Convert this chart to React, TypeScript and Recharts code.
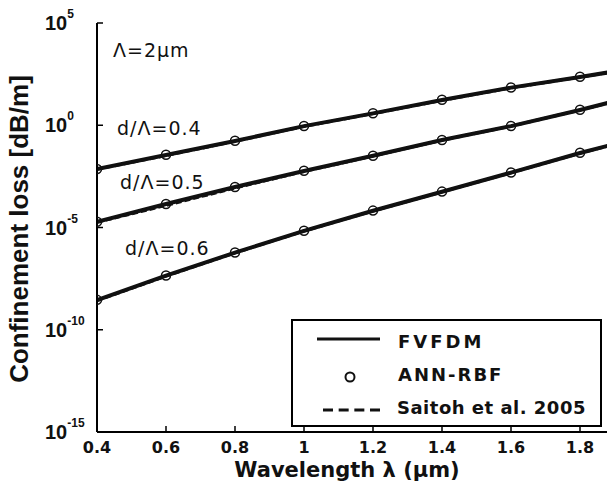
import { LineChart, Line, XAxis, YAxis, Legend, Customized } from "recharts";

// wavelength in µm (last point is where the plot is cut off on the right)
const WAVELENGTH = [0.4, 0.6, 0.8, 1.0, 1.2, 1.4, 1.6, 1.8, 1.9];

// confinement loss [dB/m], d/Λ = 0.4
const FVFDM_04 = [7.2e-3, 3.5e-2, 1.7e-1, 0.91, 3.8, 17, 69, 230, 430];
const SAITOH_04 = [7.0e-3, 3.3e-2, 1.65e-1, 0.88, 3.7, 16.5, 67, 225, 420];
const ANN_04 = [7.3e-3, 3.6e-2, 1.75e-1, 0.92, 3.9, 17.5, 70, 235];

// d/Λ = 0.5
const FVFDM_05 = [1.9e-5, 1.4e-4, 9.5e-4, 5.8e-3, 3.2e-2, 0.19, 0.91, 5.6, 15];
const SAITOH_05 = [1.8e-5, 1.2e-4, 8.5e-4, 5.5e-3, 3.1e-2, 0.185, 0.9, 5.5, 14.5];
const ANN_05 = [1.9e-5, 1.4e-4, 9.6e-4, 5.9e-3, 3.2e-2, 0.19, 0.92, 5.7];

// d/Λ = 0.6
const FVFDM_06 = [2.8e-9, 4.4e-8, 5.9e-7, 6.9e-6, 6.6e-5, 5.6e-4, 4.8e-3, 4.4e-2, 0.12];
const SAITOH_06 = [2.7e-9, 4.2e-8, 5.7e-7, 6.7e-6, 6.4e-5, 5.5e-4, 4.7e-3, 4.3e-2, 0.118];
const ANN_06 = [2.9e-9, 4.5e-8, 6.0e-7, 7.0e-6, 6.7e-5, 5.7e-4, 4.9e-3, 4.5e-2];

const X_TICKS = [0.4, 0.6, 0.8, 1, 1.2, 1.4, 1.6, 1.8];
const Y_TICKS = [1e-15, 1e-10, 1e-5, 1, 1e5];
const LEGEND_LABELS = ["FVFDM", "ANN-RBF", "Saitoh et al. 2005"];

const rows = WAVELENGTH.map((x, i) => ({
  x,
  fv04: FVFDM_04[i], sa04: SAITOH_04[i], ann04: ANN_04[i],
  fv05: FVFDM_05[i], sa05: SAITOH_05[i], ann05: ANN_05[i],
  fv06: FVFDM_06[i], sa06: SAITOH_06[i], ann06: ANN_06[i],
}));

const INK = "#111";

const XTick = ({ x, y, payload }: any) => (
  <text x={x} y={y + 21} textAnchor="middle" fontFamily="DejaVu Sans" fontWeight="bold" fontSize={16} fill={INK}>
    {String(payload.value)}
  </text>
);

const YTick = ({ x, y, payload }: any) => {
  const exp = Math.round(Math.log10(payload.value));
  return (
    <text x={x} y={y + 7} textAnchor="start" fontFamily="Liberation Sans" fontWeight="bold" fontSize={20} fill={INK}>
      10<tspan dy={-12} fontSize={12}>{exp}</tspan>
    </text>
  );
};

const annoStyle = { fontFamily: "DejaVu Sans", fontSize: 19, letterSpacing: 1, fill: INK } as const;

const Annotations = () => (
  <g>
    <text x={113} y={57} {...annoStyle}>Λ=2μm</text>
    <text x={117} y={135} {...annoStyle}>d/Λ=0.4</text>
    <text x={120} y={189} {...annoStyle}>d/Λ=0.5</text>
    <text x={125} y={255} {...annoStyle}>d/Λ=0.6</text>
    <text x={347} y={477} textAnchor="middle" fontFamily="DejaVu Sans" fontWeight="bold" fontSize={21} fill={INK}>
      Wavelength λ (μm)
    </text>
    <text x={28} y={229} transform="rotate(-90, 28, 229)" textAnchor="middle" fontFamily="Liberation Sans" fontWeight="bold" fontSize={26} fill={INK}>
      Confinement loss [dB/m]
    </text>
  </g>
);

const LegendBox = () => (
  <div style={{ width: 311, height: 108, border: "2px solid #000", boxSizing: "border-box", background: "#fff" }}>
    <svg width={307} height={104} style={{ display: "block" }}>
      <line x1={24} y1={18} x2={87} y2={18} stroke={INK} strokeWidth={3} />
      <circle cx={57} cy={56} r={4.5} fill="none" stroke={INK} strokeWidth={2} />
      <line x1={30} y1={89} x2={87} y2={89} stroke={INK} strokeWidth={3} strokeDasharray="10 5.67" />
      <text x={105} y={27} fontFamily="DejaVu Sans" fontWeight="bold" fontSize={18} letterSpacing={3} fill={INK}>{LEGEND_LABELS[0]}</text>
      <text x={105} y={60} fontFamily="DejaVu Sans" fontWeight="bold" fontSize={18} letterSpacing={2} fill={INK}>{LEGEND_LABELS[1]}</text>
      <text x={104} y={93} fontFamily="DejaVu Sans" fontWeight="bold" fontSize={18} letterSpacing={0.5} fill={INK}>{LEGEND_LABELS[2]}</text>
    </svg>
  </div>
);

const dotStyle = { r: 4.5, fill: "none", stroke: INK, strokeWidth: 1.5 };

export default function App() {
  const groups = ["04", "05", "06"];
  return (
    <div style={{ position: "fixed", left: 0, top: 0, width: 607, height: 495, overflow: "hidden", background: "#fff" }}>
      <LineChart width={620} height={495} data={rows} margin={{ top: 23, right: 5.5, left: 0, bottom: 0 }}>
        <XAxis
          dataKey="x"
          type="number"
          domain={[0.4, 1.9]}
          allowDataOverflow
          ticks={X_TICKS}
          height={63}
          tickSize={-6}
          tickMargin={6}
          tick={<XTick />}
          axisLine={{ stroke: "#000", strokeWidth: 2 }}
          tickLine={{ stroke: "#000", strokeWidth: 1.5 }}
        />
        <XAxis
          xAxisId="top"
          orientation="top"
          dataKey="x"
          type="number"
          domain={[0.4, 1.9]}
          allowDataOverflow
          ticks={X_TICKS}
          height={0}
          tickSize={-6}
          tick={() => <g />}
          axisLine={{ stroke: "#000", strokeWidth: 2 }}
          tickLine={{ stroke: "#000", strokeWidth: 1.5 }}
        />
        <YAxis
          type="number"
          scale="log"
          domain={[1e-15, 1e5]}
          allowDataOverflow
          ticks={Y_TICKS}
          width={97}
          tickSize={-6}
          tickMargin={58}
          tick={<YTick />}
          axisLine={{ stroke: "#000", strokeWidth: 2 }}
          tickLine={{ stroke: "#000", strokeWidth: 1.5 }}
        />
        {groups.map((g) => (
          <Line key={"fv" + g} dataKey={"fv" + g} stroke={INK} strokeWidth={4} dot={false} activeDot={false} isAnimationActive={false} />
        ))}
        {groups.map((g) => (
          <Line key={"sa" + g} dataKey={"sa" + g} stroke={INK} strokeWidth={3} strokeDasharray="6 3" dot={false} activeDot={false} isAnimationActive={false} />
        ))}
        {groups.map((g) => (
          <Line key={"ann" + g} dataKey={"ann" + g} stroke="none" dot={dotStyle} activeDot={false} isAnimationActive={false} />
        ))}
        <Customized component={Annotations} />
        <Legend
          layout="horizontal"
          verticalAlign="middle"
          align="center"
          wrapperStyle={{ left: 291, top: 319, width: 311, height: 108 }}
          content={() => <LegendBox />}
        />
      </LineChart>
    </div>
  );
}
